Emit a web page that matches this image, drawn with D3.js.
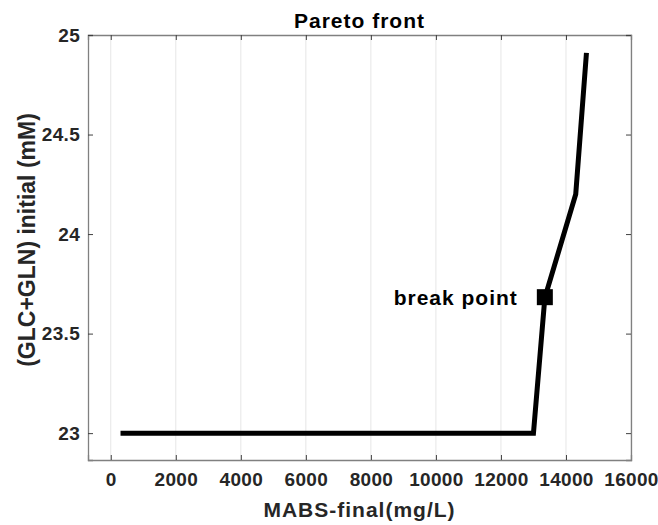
<!DOCTYPE html>
<html><head><meta charset="utf-8">
<script src="https://cdn.jsdelivr.net/npm/d3@7"></script>
<style>body{margin:0;background:#fff}svg{display:block}text{font-family:"Liberation Sans",Arial,sans-serif;font-weight:bold}</style>
</head><body>
<script>
const xValues = [300, 13000, 13350, 14300, 14630];
const yValues = [23.0, 23.0, 23.68, 24.2, 24.91];
const breakPoint = {x: 13350, y: 23.683, label: "break point"};
const xTicks = [0, 2000, 4000, 6000, 8000, 10000, 12000, 14000, 16000];
const yTicks = [23, 23.5, 24, 24.5, 25];
const yTickLabels = ["23", "23.5", "24", "24.5", "25"];

const W = 658, H = 525;
const m = {l: 88, r: 27, t: 35, b: 65};
const svg = d3.select("body").append("svg").attr("width", W).attr("height", H);
const x = d3.scaleLinear().domain([-700, 16000]).range([m.l, W - m.r]);
const y = d3.scaleLinear().domain([22.865, 25]).range([H - m.b, m.t]);
const iw = W - m.l - m.r, ih = H - m.t - m.b;

// grid
svg.append("g").selectAll("line").data(xTicks).join("line")
  .attr("x1", d => x(d)).attr("x2", d => x(d)).attr("y1", m.t).attr("y2", H - m.b)
  .attr("stroke", "#e6e6e6").attr("stroke-width", 1);

const axColor = "#808080";
const gx = svg.append("g").attr("transform", `translate(0,${H - m.b})`)
  .call(d3.axisBottom(x).tickValues(xTicks).tickSize(-5).tickPadding(13).tickFormat(d3.format("d")));
const gxt = svg.append("g").attr("transform", `translate(0,${m.t})`)
  .call(d3.axisTop(x).tickValues(xTicks).tickSize(-5).tickFormat(""));
const gy = svg.append("g").attr("transform", `translate(${m.l},0)`)
  .call(d3.axisLeft(y).tickValues(yTicks).tickSize(-5).tickPadding(8).tickFormat((d, i) => yTickLabels[i]));
const gyr = svg.append("g").attr("transform", `translate(${W - m.r},0)`)
  .call(d3.axisRight(y).tickValues(yTicks).tickSize(-5).tickFormat(""));
[gx, gxt, gy, gyr].forEach(g => {
  g.select(".domain").attr("stroke", axColor).attr("stroke-width", 1.3);
  g.selectAll(".tick line").attr("stroke", "#404040");
  g.selectAll("text").attr("fill", "#262626").style("font-size", "19px").style("font-weight", "bold")
    .style("letter-spacing", "0.3px")
    .style("font-family", '"Liberation Sans",Arial,sans-serif');
});
gx.selectAll("text").attr("dy", "0.71em");

// line
const pts = xValues.map((v, i) => [v, yValues[i]]);
svg.append("path").datum(pts)
  .attr("d", d3.line().x(d => x(d[0])).y(d => y(d[1])))
  .attr("fill", "none").attr("stroke", "#000").attr("stroke-width", 5).attr("stroke-linejoin", "miter");

// break point
const s = 16;
svg.append("rect").attr("x", x(breakPoint.x) - s / 2).attr("y", y(breakPoint.y) - s / 2)
  .attr("width", s).attr("height", s).attr("fill", "#000");
svg.append("text").attr("x", x(breakPoint.x) - 27).attr("y", y(breakPoint.y)).attr("dy", "0.35em")
  .attr("text-anchor", "end").style("font-size", "21px").style("letter-spacing", "1px")
  .attr("fill", "#000").text(breakPoint.label);

// titles
svg.append("text").attr("x", m.l + iw / 2).attr("y", 28).attr("text-anchor", "middle")
  .style("font-size", "21px").style("letter-spacing", "1px").attr("fill", "#000").text("Pareto front");
svg.append("text").attr("x", m.l + iw / 2).attr("y", 517).attr("text-anchor", "middle")
  .style("font-size", "21px").style("letter-spacing", "1px").attr("fill", "#262626").text("MABS-final(mg/L)");
svg.append("text").attr("transform", `translate(35,240) rotate(-90)`).attr("text-anchor", "middle")
  .style("font-size", "23px").attr("fill", "#262626").text("(GLC+GLN) initial (mM)");
</script>
</body></html>
